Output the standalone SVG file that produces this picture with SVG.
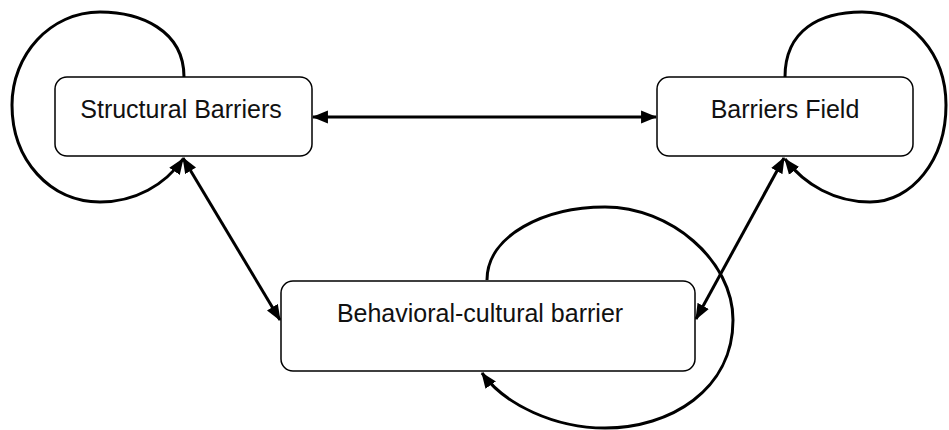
<svg xmlns="http://www.w3.org/2000/svg" width="949" height="430" viewBox="0 0 949 430">
<style>
.box{fill:#fff;stroke:#000;stroke-width:1.5}
.lbl{font-family:"Liberation Sans",Arial,sans-serif;font-size:25px;fill:#111;text-anchor:middle}
.con{fill:none;stroke:#000;stroke-width:3}
</style>
<defs>
<marker id="ah" markerUnits="userSpaceOnUse" markerWidth="16" markerHeight="14" refX="14" refY="6" orient="auto-start-reverse" viewBox="0 0 15 12">
<path d="M0,0 L15,6 L0,12 Z" fill="#000"/>
</marker>
</defs>
<g id="connectors">
<path class="con" d="M184,77 C184,30 140,12 100,12 C50,12 12,55 12,105 C12,160 50,202 100,202 C135,202 165,185 183,159" marker-end="url(#ah)"/>
<path class="con" d="M785,77 C785,30 820,12 862,12 C912,12 946,55 946,105 C946,160 912,202 870,202 C835,202 805,185 785,159" marker-end="url(#ah)"/>
<path class="con" d="M487,280 C487,235 545,207 605,207 C670,207 733,260 733,320 C733,390 670,428 605,428 C555,428 505,405 482,373" marker-end="url(#ah)"/>
<line class="con" x1="313" y1="117" x2="656" y2="117" marker-start="url(#ah)" marker-end="url(#ah)"/>
<line class="con" x1="183" y1="158" x2="280" y2="320" marker-start="url(#ah)" marker-end="url(#ah)"/>
<line class="con" x1="784" y1="158" x2="696" y2="319" marker-start="url(#ah)" marker-end="url(#ah)"/>
</g>
<g id="structural">
<rect class="box" x="55" y="77" width="257" height="79" rx="12"/>
<text class="lbl" x="181" y="118">Structural Barriers</text>
</g>
<g id="field">
<rect class="box" x="657" y="77" width="256" height="79" rx="12"/>
<text class="lbl" x="785" y="118">Barriers Field</text>
</g>
<g id="behavioral">
<rect class="box" x="281" y="281" width="414" height="90" rx="12"/>
<text class="lbl" x="480" y="322">Behavioral-cultural barrier</text>
</g>
</svg>
